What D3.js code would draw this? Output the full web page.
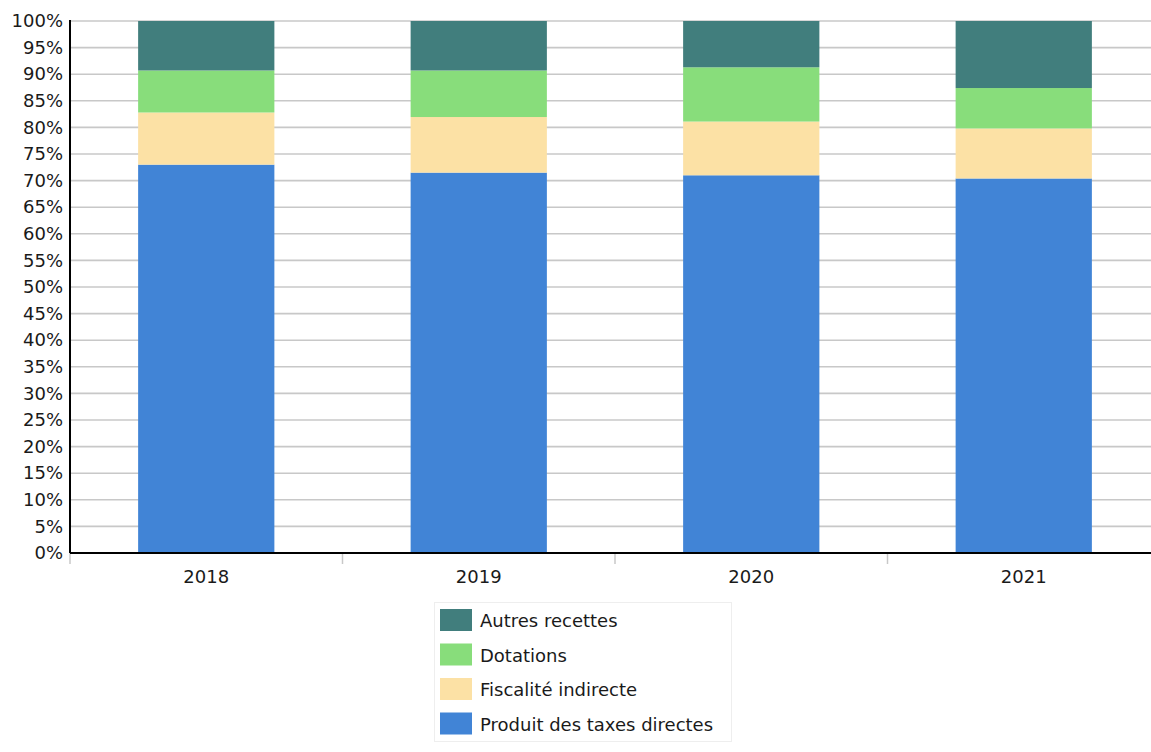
<!DOCTYPE html>
<html>
<head>
<meta charset="utf-8">
<script src="https://cdn.jsdelivr.net/npm/d3@7"></script>
<style>
  body { margin: 0; background: #fff; }
  text { font-family: "DejaVu Sans", sans-serif; fill: #1a1a1a; }
</style>
</head>
<body>
<div id="chart"></div>
<script>
// years on the x axis
var years = ["2018", "2019", "2020", "2021"];
// series, stacked bottom to top
var seriesNames = ["Produit des taxes directes", "Fiscalité indirecte", "Dotations", "Autres recettes"];
var seriesColors = ["#4184d6", "#fce1a5", "#88dd7b", "#417e7d"];
// shares in % for each year
var produitTaxes = [73.0, 71.5, 71.0, 70.4];
var fiscaliteIndirecte = [9.8, 10.45, 10.1, 9.4];
var dotations = [7.9, 8.75, 10.2, 7.6];
var autresRecettes = [9.3, 9.3, 8.7, 12.6];
// y tick values
var yTicks = d3.range(0, 101, 5);

const chartWidth = 1151;
const chartHeight = 752;
const marginLeft = 70;
const marginTop = 21;
const plotBottom = 553;
const plotRight = 1160;

var seriesValues = [produitTaxes, fiscaliteIndirecte, dotations, autresRecettes];

// build rows for d3.stack
var rows = years.map(function(y, i) {
  var row = { year: y };
  seriesNames.forEach(function(name, s) { row[name] = seriesValues[s][i]; });
  return row;
});

var stacked = d3.stack().keys(seriesNames)(rows);

var xBand = d3.scaleBand()
  .domain(years)
  .range([marginLeft, plotRight])
  .paddingInner(0.5)
  .paddingOuter(0.25);

var xAxisScale = d3.scaleBand()
  .domain(years)
  .range([marginLeft, plotRight])
  .padding(0);

var yScale = d3.scaleLinear()
  .domain([0, 100])
  .range([plotBottom, marginTop]);

var svg = d3.select("#chart")
  .append("svg")
  .attr("width", chartWidth)
  .attr("height", chartHeight);

// gridlines
svg.append("g")
  .selectAll("line")
  .data(yTicks.filter(function(d) { return d > 0; }))
  .enter()
  .append("line")
  .attr("x1", marginLeft)
  .attr("x2", chartWidth)
  .attr("y1", function(d) { return yScale(d); })
  .attr("y2", function(d) { return yScale(d); })
  .style("stroke", "#c8c8c8")
  .style("stroke-width", 1.6);

// bars
svg.append("g")
  .selectAll("g")
  .data(stacked)
  .enter()
  .append("g")
  .style("fill", function(d, i) { return seriesColors[i]; })
  .selectAll("rect")
  .data(function(d) { return d; })
  .enter()
  .append("rect")
  .attr("x", function(d) { return xBand(d.data.year); })
  .attr("y", function(d) { return yScale(d[1]); })
  .attr("width", xBand.bandwidth())
  .attr("height", function(d) { return yScale(d[0]) - yScale(d[1]); });

// y axis labels
var yAxis = d3.axisLeft(yScale)
  .tickValues(yTicks)
  .tickSize(0)
  .tickPadding(7)
  .tickFormat(function(d) { return d + "%"; });

var yG = svg.append("g")
  .attr("transform", "translate(" + marginLeft + ",0)")
  .call(yAxis);
yG.select(".domain").remove();
yG.selectAll("text")
  .style("font-size", "18px")
  .style("font-family", "DejaVu Sans, sans-serif")
  .style("fill", "#1a1a1a");

// x axis: ticks at band boundaries, labels in band centres
var xG = svg.append("g");
xG.selectAll("line")
  .data(years)
  .enter()
  .append("line")
  .attr("x1", function(d) { return xAxisScale(d); })
  .attr("x2", function(d) { return xAxisScale(d); })
  .attr("y1", plotBottom)
  .attr("y2", plotBottom + 11)
  .style("stroke", "#c8c8c8")
  .style("stroke-width", 1.5);

xG.selectAll("text")
  .data(years)
  .enter()
  .append("text")
  .attr("x", function(d) { return xAxisScale(d) + xAxisScale.bandwidth() / 2; })
  .attr("y", 583)
  .style("text-anchor", "middle")
  .style("font-size", "18px")
  .text(function(d) { return d; });

// axis lines
svg.append("line")
  .attr("x1", marginLeft).attr("x2", chartWidth)
  .attr("y1", plotBottom).attr("y2", plotBottom)
  .style("stroke", "#000").style("stroke-width", 2);
svg.append("line")
  .attr("x1", marginLeft).attr("x2", marginLeft)
  .attr("y1", marginTop - 1).attr("y2", plotBottom)
  .style("stroke", "#000").style("stroke-width", 2);

// legend, top to bottom in reverse stack order
var legendItems = seriesNames.map(function(n, i) { return { name: n, color: seriesColors[i] }; }).reverse();
var legend = svg.append("g").attr("transform", "translate(434,602)");
legend.append("rect")
  .attr("x", 0.5).attr("y", 0.5)
  .attr("width", 297).attr("height", 139)
  .style("fill", "#fff")
  .style("stroke", "#eeeeee");
var li = legend.selectAll("g.item")
  .data(legendItems)
  .enter()
  .append("g")
  .attr("class", "item")
  .attr("transform", function(d, i) { return "translate(6," + (7 + i * 34.5) + ")"; });
li.append("rect")
  .attr("width", 32)
  .attr("height", 22)
  .style("fill", function(d) { return d.color; });
li.append("text")
  .attr("x", 40)
  .attr("y", 18)
  .style("font-size", "18px")
  .text(function(d) { return d.name; });
</script>
</body>
</html>
